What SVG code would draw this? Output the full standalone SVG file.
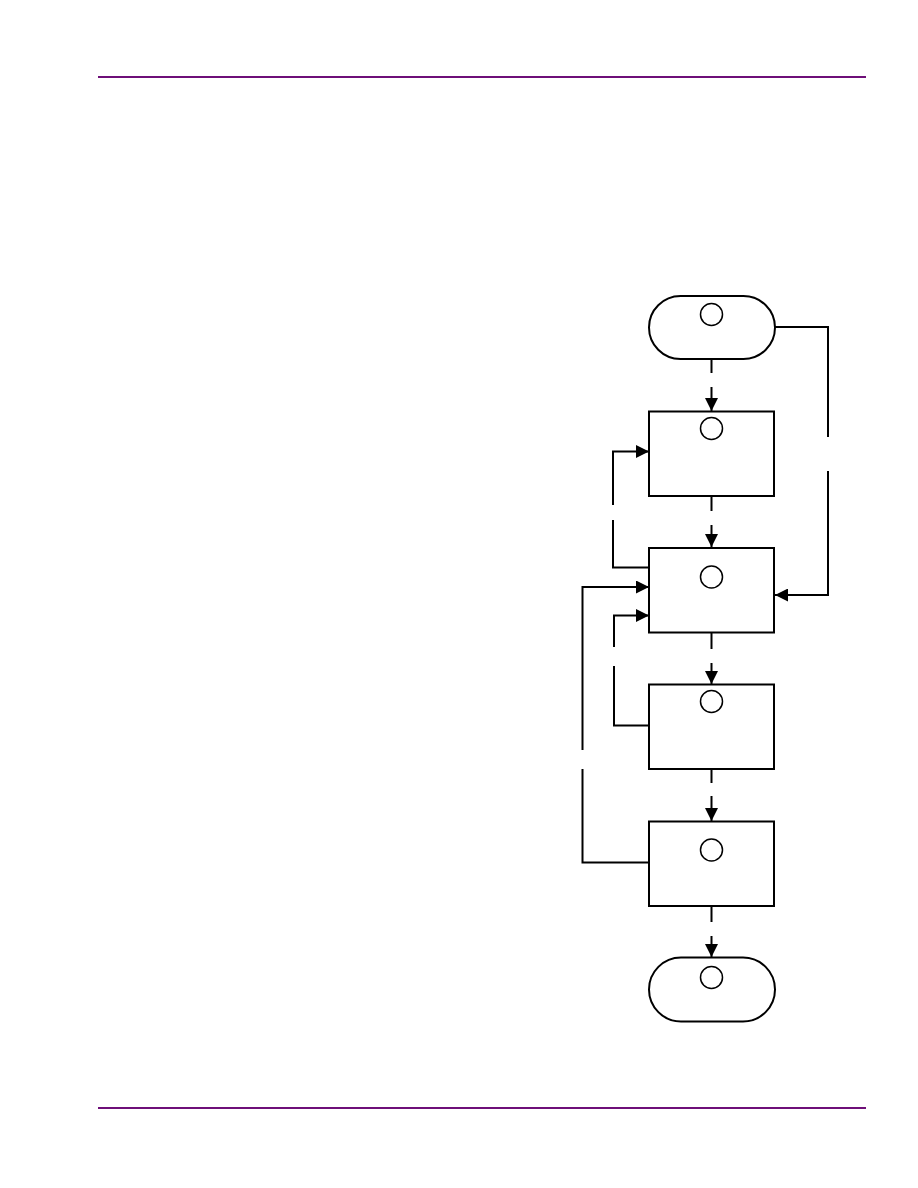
<svg xmlns="http://www.w3.org/2000/svg" width="918" height="1188" viewBox="0 0 918 1188">
<style>
.rule{stroke:#6e0f78;stroke-width:1.8}
.shape{fill:#fff;stroke:#000;stroke-width:2}
.c{fill:#fff;stroke:#000;stroke-width:1.5}
.ln{fill:none;stroke:#000;stroke-width:2}
</style>
<defs>
<marker id="ah" viewBox="0 0 13 13" refX="13" refY="6.5" markerWidth="13" markerHeight="13" markerUnits="userSpaceOnUse" orient="auto">
<path d="M0,0 L13,6.5 L0,13 Z" fill="#000"/>
</marker>
</defs>
<rect width="918" height="1188" fill="#fff"/>
<line class="rule" x1="98" y1="77" x2="866" y2="77"/>
<line class="rule" x1="98" y1="1108" x2="866" y2="1108"/>
<g id="connectors">
<line class="ln" x1="711.5" y1="359" x2="711.5" y2="373"/>
<line class="ln" x1="711.5" y1="387" x2="711.5" y2="411" marker-end="url(#ah)"/>
<line class="ln" x1="711.5" y1="496" x2="711.5" y2="511"/>
<line class="ln" x1="711.5" y1="525" x2="711.5" y2="547" marker-end="url(#ah)"/>
<line class="ln" x1="711.5" y1="633" x2="711.5" y2="649"/>
<line class="ln" x1="711.5" y1="663" x2="711.5" y2="684" marker-end="url(#ah)"/>
<line class="ln" x1="711.5" y1="769" x2="711.5" y2="783"/>
<line class="ln" x1="711.5" y1="796" x2="711.5" y2="821" marker-end="url(#ah)"/>
<line class="ln" x1="711.5" y1="906" x2="711.5" y2="922"/>
<line class="ln" x1="711.5" y1="936" x2="711.5" y2="957" marker-end="url(#ah)"/>
<polyline class="ln" points="775,327 828,327 828,437"/>
<polyline class="ln" points="828,471 828,595 775,595" marker-end="url(#ah)"/>
<polyline class="ln" points="649,567.5 613,567.5 613,520"/>
<polyline class="ln" points="613,505 613,451.5 649,451.5" marker-end="url(#ah)"/>
<polyline class="ln" points="649,725.5 614,725.5 614,666"/>
<polyline class="ln" points="614,647 614,615.5 649,615.5" marker-end="url(#ah)"/>
<polyline class="ln" points="649,862.5 582.5,862.5 582.5,769"/>
<polyline class="ln" points="582.5,750 582.5,587 649,587" marker-end="url(#ah)"/>
</g>
<g id="start">
<rect class="shape" x="649" y="296" width="126" height="63" rx="31.5"/>
<circle class="c" cx="711.5" cy="314.5" r="11"/>
</g>
<g id="box1">
<rect class="shape" x="649" y="411.5" width="125" height="84.5"/>
<circle class="c" cx="711.5" cy="428.5" r="11"/>
</g>
<g id="box2">
<rect class="shape" x="649" y="548" width="125" height="84.5"/>
<circle class="c" cx="711.5" cy="577" r="11"/>
</g>
<g id="box3">
<rect class="shape" x="649" y="684.5" width="125" height="84.5"/>
<circle class="c" cx="711.5" cy="701.5" r="11"/>
</g>
<g id="box4">
<rect class="shape" x="649" y="821.5" width="125" height="84.5"/>
<circle class="c" cx="711.5" cy="850" r="11"/>
</g>
<g id="end">
<rect class="shape" x="649" y="957.5" width="126" height="64" rx="32"/>
<circle class="c" cx="711.5" cy="977.5" r="11"/>
</g>
</svg>
